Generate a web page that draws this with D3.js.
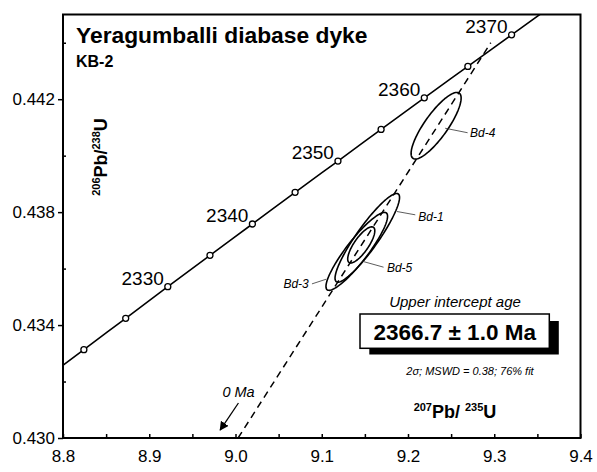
<!DOCTYPE html>
<html><head><meta charset="utf-8">
<script src="https://cdn.jsdelivr.net/npm/d3@7"></script>
<style>
body{margin:0;background:#fff}
svg{display:block}
text{font-family:"Liberation Sans",Arial,Helvetica,sans-serif;fill:#000}
</style>
</head><body>
<svg id="chart" width="597" height="472"></svg>
<script>
// ---- data ----
const xTicks = [8.8, 8.9, 9.0, 9.1, 9.2, 9.3, 9.4];
const xMinorTicks = [8.85, 8.95, 9.05, 9.15, 9.25, 9.35];
const yTicks = [0.430, 0.434, 0.438, 0.442];
const yMinorTicks = [0.432, 0.436, 0.440, 0.444];

const concordiaAge = [2315, 2320, 2325, 2330, 2335, 2340, 2345, 2350, 2355, 2360, 2365, 2370, 2375];
const concordiaX = [8.7760, 8.8242, 8.8727, 8.9215, 8.9704, 9.0196, 9.0691, 9.1188, 9.1688, 9.2189, 9.2694, 9.3201, 9.3710];
const concordiaY = [0.43202, 0.43313, 0.43424, 0.43536, 0.43647, 0.43758, 0.43870, 0.43981, 0.44093, 0.44205, 0.44316, 0.44428, 0.44540];
const markedAges = [2320, 2325, 2330, 2335, 2340, 2345, 2350, 2355, 2360, 2365, 2370];
const labelledAges = [2330, 2340, 2350, 2360, 2370];

const discordiaX = [9.003, 9.296];
const discordiaY = [0.4300, 0.4440];

const ellipseNames = ["Bd-4", "Bd-1", "Bd-3", "Bd-5"];
const ellipseX   = [9.2326, 9.1528, 9.1406, 9.1458];
const ellipseY   = [0.44106, 0.43709, 0.43661, 0.43684];
const ellipseSX  = [0.0290, 0.0374, 0.0357, 0.0157];
const ellipseSY  = [0.00118, 0.00157, 0.00138, 0.00064];
const ellipseRho = [0.83, 0.91, 0.90, 0.78];

const titleText = "Yeragumballi diabase dyke";
const sampleText = "KB-2";
const interceptLabel = "Upper intercept age";
const interceptAge = "2366.7 ± 1.0 Ma";
const statsText = "2σ; MSWD = 0.38; 76% fit";
const zeroLabel = "0 Ma";

// ---- layout ----
const W = 597, H = 472;
const L = 63, R = 580.5, T = 14.5, B = 438;
const svg = d3.select("#chart");
svg.append("rect").attr("width", W).attr("height", H).attr("fill", "#fff");

const x = d3.scaleLinear().domain([8.8, 9.4]).range([L, R]);
const y = d3.scaleLinear().domain([0.430, 0.445]).range([B, T]);

svg.append("clipPath").attr("id", "plotclip")
  .append("rect").attr("x", L).attr("y", T).attr("width", R - L).attr("height", B - T);
const plot = svg.append("g").attr("clip-path", "url(#plotclip)");

// ellipses
const ellData = ellipseNames.map((n, i) => ({name: n, x: ellipseX[i], y: ellipseY[i], sx: ellipseSX[i], sy: ellipseSY[i], rho: ellipseRho[i]}));
function ellipsePts(e) {
  const pts = [];
  const k = Math.sqrt(1 - e.rho * e.rho);
  for (let i = 0; i < 120; i++) {
    const t = i / 120 * 2 * Math.PI;
    pts.push([x(e.x + e.sx * Math.cos(t)), y(e.y + e.sy * (e.rho * Math.cos(t) + k * Math.sin(t)))]);
  }
  return pts;
}
const closed = d3.line().curve(d3.curveLinearClosed);
plot.selectAll("path.ell").data(ellData).join("path")
  .attr("class", "ell")
  .attr("d", d => closed(ellipsePts(d)))
  .attr("fill", "none").attr("stroke", "#000").attr("stroke-width", 1.6);

// discordia
const disc = discordiaX.map((v, i) => [v, discordiaY[i]]);
plot.append("path")
  .attr("d", d3.line().x(d => x(d[0])).y(d => y(d[1]))(disc))
  .attr("fill", "none").attr("stroke", "#000").attr("stroke-width", 1.5)
  .attr("stroke-dasharray", "7,5");

// concordia
const conc = concordiaAge.map((a, i) => ({age: a, x: concordiaX[i], y: concordiaY[i]}));
plot.append("path")
  .attr("d", d3.line().x(d => x(d.x)).y(d => y(d.y)).curve(d3.curveMonotoneX)(conc))
  .attr("fill", "none").attr("stroke", "#000").attr("stroke-width", 1.6);

plot.selectAll("circle.m").data(conc.filter(d => markedAges.includes(d.age))).join("circle")
  .attr("class", "m")
  .attr("cx", d => x(d.x)).attr("cy", d => y(d.y)).attr("r", 3)
  .attr("fill", "#fff").attr("stroke", "#000").attr("stroke-width", 1.3);

svg.selectAll("text.age").data(conc.filter(d => labelledAges.includes(d.age))).join("text")
  .attr("class", "age")
  .attr("x", d => x(d.x) - 4).attr("y", d => y(d.y) - 2)
  .attr("text-anchor", "end").attr("font-size", 19)
  .text(d => d.age);

// ellipse labels with leaders (offsets relative to centre, px)
const leaderOff = {
  "Bd-4": {a: [9, 2.5], b: [31.5, 7], t: [34, 7.5], anchor: "start"},
  "Bd-1": {a: [29.7, -26.3], b: [48, -23], t: [51, -21.3], anchor: "start"},
  "Bd-3": {a: [-30.5, 27.8], b: [-44.8, 32.5], t: [-48, 32.5], anchor: "end"},
  "Bd-5": {a: [1.5, 16.5], b: [22.3, 22.3], t: [25.7, 23.3], anchor: "start"}
};
ellData.forEach(e => {
  const o = leaderOff[e.name];
  const cx = x(e.x), cy = y(e.y);
  svg.append("line")
    .attr("x1", cx + o.a[0]).attr("y1", cy + o.a[1])
    .attr("x2", cx + o.b[0]).attr("y2", cy + o.b[1])
    .attr("stroke", "#333").attr("stroke-width", 0.8);
  svg.append("text")
    .attr("x", cx + o.t[0]).attr("y", cy + o.t[1])
    .attr("dy", "0.35em")
    .attr("text-anchor", o.anchor)
    .attr("font-size", 12).attr("font-style", "italic")
    .text(e.name);
});

// frame
svg.append("rect").attr("x", L).attr("y", T).attr("width", R - L).attr("height", B - T)
  .attr("fill", "none").attr("stroke", "#000").attr("stroke-width", 2);

// axes
const yAxis = svg.append("g").attr("transform", `translate(${L},0)`)
  .call(d3.axisLeft(y).tickValues(yTicks).tickFormat(d3.format(".3f")).tickSize(5).tickPadding(3));
yAxis.select(".domain").remove();
yAxis.selectAll(".tick line").attr("stroke-width", 1.5);
yAxis.selectAll(".tick text").attr("font-size", 17).attr("font-family", null);
const yMinor = svg.append("g").attr("transform", `translate(${L},0)`)
  .call(d3.axisRight(y).tickValues(yMinorTicks).tickSize(3).tickFormat(""));
yMinor.select(".domain").remove();
yMinor.selectAll(".tick line").attr("stroke-width", 1.5);

const xAxis = svg.append("g").attr("transform", `translate(0,${B})`)
  .call(d3.axisBottom(x).tickValues(xTicks).tickFormat(d3.format(".1f")).tickSizeInner(-4).tickSizeOuter(0).tickPadding(12));
xAxis.select(".domain").remove();
xAxis.selectAll(".tick line").attr("stroke-width", 1.5);
xAxis.selectAll(".tick text").attr("font-size", 17).attr("font-family", null);
const xMinor = svg.append("g").attr("transform", `translate(0,${B})`)
  .call(d3.axisTop(x).tickValues(xMinorTicks).tickSize(4).tickFormat(""));
xMinor.select(".domain").remove();
xMinor.selectAll(".tick line").attr("stroke-width", 1.5);

// axis titles
const yl = svg.append("text").attr("transform", "translate(107,157) rotate(-90)")
  .attr("text-anchor", "middle").attr("font-weight", "bold").attr("font-size", 18);
yl.append("tspan").attr("font-size", 11).attr("dy", -7).text("206");
yl.append("tspan").attr("dy", 7).text("Pb/");
yl.append("tspan").attr("font-size", 11).attr("dy", -7).text("238");
yl.append("tspan").attr("dy", 7).text("U");

const xl = svg.append("text").attr("x", 455).attr("y", 418)
  .attr("text-anchor", "middle").attr("font-weight", "bold").attr("font-size", 18);
xl.append("tspan").attr("font-size", 11).attr("dy", -7).text("207");
xl.append("tspan").attr("dy", 7).text("Pb/ ");
xl.append("tspan").attr("font-size", 11).attr("dy", -7).text("235");
xl.append("tspan").attr("dy", 7).text("U");

// title
svg.append("text").attr("x", 76).attr("y", 42.5).attr("font-weight", "bold").attr("font-size", 22.8).text(titleText);
svg.append("text").attr("x", 76).attr("y", 66.5).attr("font-weight", "bold").attr("font-size", 16).text(sampleText);

// intercept box
svg.append("text").attr("x", 455).attr("y", 306.5).attr("text-anchor", "middle")
  .attr("font-style", "italic").attr("font-size", 15).text(interceptLabel);
svg.append("rect").attr("x", 369.3).attr("y", 321).attr("width", 189.5).attr("height", 33.5).attr("fill", "#000");
svg.append("rect").attr("x", 360).attr("y", 314).attr("width", 189.3).attr("height", 34.3)
  .attr("fill", "#fff").attr("stroke", "#000").attr("stroke-width", 1.5);
svg.append("text").attr("x", 454.7).attr("y", 339.5).attr("text-anchor", "middle")
  .attr("font-weight", "bold").attr("font-size", 22.5).text(interceptAge);
svg.append("text").attr("x", 470).attr("y", 375).attr("text-anchor", "middle")
  .attr("font-style", "italic").attr("font-size", 11).text(statsText);

// 0 Ma annotation
svg.append("defs").append("marker").attr("id", "arr")
  .attr("viewBox", "0 0 10 10").attr("refX", 9).attr("refY", 5)
  .attr("markerWidth", 7).attr("markerHeight", 7).attr("orient", "auto")
  .append("path").attr("d", "M0,0 L10,5 L0,10 z").attr("fill", "#000");
svg.append("line")
  .attr("x1", x(9.0034)).attr("y1", y(0.43124))
  .attr("x2", x(8.9822)).attr("y2", y(0.43028))
  .attr("stroke", "#000").attr("stroke-width", 1.3).attr("marker-end", "url(#arr)");
svg.append("text").attr("x", x(8.9848)).attr("y", y(0.43146))
  .attr("font-style", "italic").attr("font-size", 14.5).text(zeroLabel);
</script>
</body></html>
